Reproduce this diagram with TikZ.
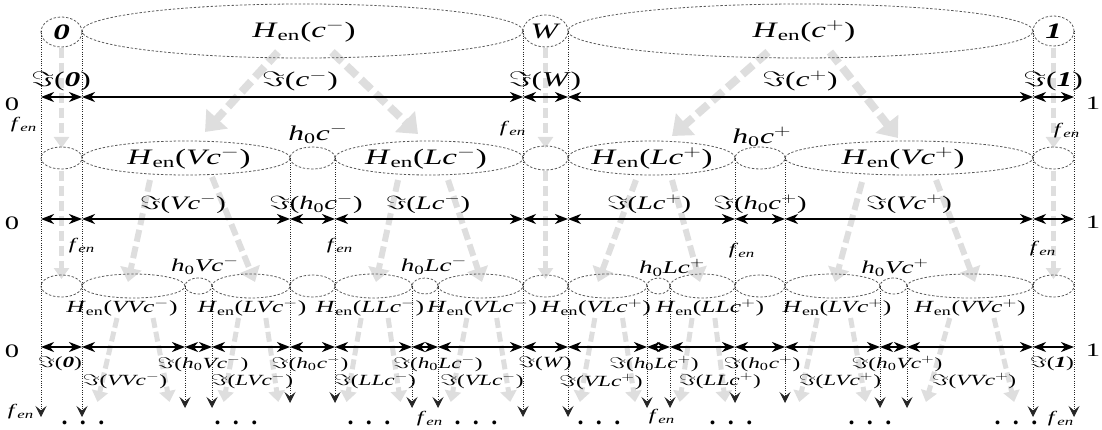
\RequirePackage{fix-cm}
\documentclass[tikz,border=0pt]{standalone}
\usepackage{graphicx}
\usepackage{fontspec}
\setmainfont{Liberation Serif}
\usetikzlibrary{shapes.geometric,arrows.meta}
\newcommand{\sx}[1]{\scalebox{1.5}[1]{#1}}
\newcommand{\Hn}{\textit{H}\textsubscript{en}}
\newcommand{\hz}{\textit{h}\textsubscript{0}}
\newcommand{\smi}{$^{-}$}
\newcommand{\spl}{$^{+}$}
\newcommand{\Jm}[1]{$\Im$(#1)}
\newcommand{\fenl}{\textit{f}\textsubscript{\textit{en}}}
\newcommand{\bz}{\textbf{\textit{0}}}
\newcommand{\bo}{\textbf{\textit{1}}}
\newcommand{\fs}[1]{\fontsize{#1}{#1}\selectfont}
\tikzset{
  ell/.style={ellipse, draw=black!65, line width=0.8pt, dash pattern=on 2.4pt off 1.8pt, inner sep=0pt},
  vdot/.style={draw=black!85, line width=0.8pt, dash pattern=on 0.9pt off 1.4pt, -{Stealth[length=11pt,width=11pt,inset=4.5pt]}},
  seg/.style={draw=black, line width=1.7pt, >={Stealth[length=13pt,width=10pt,inset=4pt]}, <->},
  g1/.style={draw=black!13, line width=8pt, dash pattern=on 14pt off 6pt, -{Triangle[length=18pt,width=28pt]}},
  g2/.style={draw=black!13, line width=6pt, dash pattern=on 12pt off 5pt, -{Triangle[length=14pt,width=21pt]}},
  g3/.style={draw=black!13, line width=5pt, dash pattern=on 10pt off 4pt, -{Triangle[length=11pt,width=16pt]}},
  gv/.style={draw=black!13, line width=5pt, dash pattern=on 10pt off 5pt, -{Triangle[length=11pt,width=15pt]}},
  lbl/.style={inner sep=0pt},
  tT/.style={lbl, font=\fs{22}},
  tI1/.style={lbl, font=\fs{21}},
  tH2/.style={lbl, font=\fs{22}},
  tI2/.style={lbl, font=\fs{19}},
  th/.style={lbl, font=\fs{21}},
  tH3/.style={lbl, font=\fs{17}},
  tI3/.style={lbl, font=\fs{15.5}},
  th3/.style={lbl, font=\fs{18}},
  tf/.style={lbl, font=\fs{16}},
  tax/.style={lbl, font=\fs{19}},
  tdots/.style={lbl, font=\fs{24}\bfseries},
}
\begin{document}
\begin{tikzpicture}[x=1pt,y=-1pt]
\useasboundingbox (0,0) rectangle (1102,430);

% ---------- grey dashed arrows (background) ----------
\draw[g1] (278,52) -- (205,132);
\draw[g1] (332,52) -- (418,134);
\draw[g1] (768,52) -- (672,136);
\draw[g1] (830,52) -- (898,138);
\foreach \x in {61.5,545.5,1053.5}{
  \draw[gv] (\x,48) -- (\x,148);
  \draw[gv] (\x,171) -- (\x,279);
}
\draw[g2] (150,180) -- (128,282);
\draw[g2] (212,177) -- (255,282);
\draw[g2] (398,180) -- (376,282);
\draw[g2] (448,180) -- (482,282);
\draw[g2] (636,180) -- (598,282);
\draw[g2] (672,180) -- (700,282);
\draw[g2] (862,182) -- (835,282);
\draw[g2] (936,180) -- (975,282);
\foreach \a/\b in {82/185,212/290,335/412,438/523,568/647,670/735,785/880,907/1033}{
  \pgfmathsetmacro{\w}{\b-\a}
  \draw[g3] ({\a+0.34*\w},318) -- ({\a+0.15*\w},402);
  \draw[g3] ({\a+0.69*\w},318) -- ({\a+0.85*\w},402);
}

% ---------- ellipses, row 0 ----------
\node[ell, minimum width=41pt, minimum height=30pt] (e0) at (61.5,32) {};
\node[ell, minimum width=441pt, minimum height=54pt] (ecm) at (302.5,31) {};
\node[ell, minimum width=45pt, minimum height=32pt] (eW) at (545.5,31) {};
\node[ell, minimum width=465pt, minimum height=54pt] (ecp) at (800.5,31) {};
\node[ell, minimum width=41pt, minimum height=30pt] (e1) at (1053.5,31) {};

% ---------- ellipses, row 1 ----------
\node[ell, minimum width=41pt, minimum height=22pt] (r1a) at (61.5,158) {};
\node[ell, minimum width=208pt, minimum height=34pt] (eVm) at (186,158) {};
\node[ell, minimum width=45pt, minimum height=22pt] (eh0m) at (312.5,158) {};
\node[ell, minimum width=188pt, minimum height=34pt] (eLm) at (429,158) {};
\node[ell, minimum width=45pt, minimum height=24pt] (r1W) at (545.5,158) {};
\node[ell, minimum width=167pt, minimum height=34pt] (eLp) at (651.5,158) {};
\node[ell, minimum width=50pt, minimum height=22pt] (eh0p) at (760,158) {};
\node[ell, minimum width=248pt, minimum height=34pt] (eVp) at (909,158) {};
\node[ell, minimum width=41pt, minimum height=22pt] (r1b) at (1053.5,158) {};

% ---------- ellipses, row 2 ----------
\foreach \n/\c/\w/\h in {r2a/61.5/41/22, eVVm/133.5/103/24, eh0Vm/198.5/27/16, eLVm/251/78/24,
  r2b/312.5/45/22, eLLm/373.5/77/24, eh0Lm/425/26/16, eVLm/480.5/85/24, r2W/545.5/45/22,
  eVLp/607.5/79/24, eh0Lp/658.5/23/16, eLLp/702.5/65/24, r2c/760/50/22, eLVp/832.5/95/24,
  eh0Vp/893.5/27/16, eVVp/970/126/24, r2d/1053.5/41/22}{
  \node[ell, minimum width=\w pt, minimum height=\h pt] (\n) at (\c,286) {};
}

% ---------- vertical dotted lines ----------
\foreach \x in {41,82,523,568,1033,1074}{ \draw[vdot] (\x,31) -- (\x,417); }
\foreach \x in {290,335,735,785}{ \draw[vdot] (\x,158) -- (\x,403); }
\foreach \x in {185,212,412,438,647,670,880,907}{ \draw[vdot] (\x,286) -- (\x,408); }

% ---------- axes ----------
\foreach \a/\b in {41/82,82/523,523/568,568/1033,1033/1074}{ \draw[seg] (\a,97) -- (\b,97); }
\foreach \a/\b in {41/82,82/290,290/335,335/523,523/568,568/735,735/785,785/1033,1033/1074}{ \draw[seg] (\a,219) -- (\b,219); }
\foreach \a/\b in {41/82,82/185,185/212,212/290,290/335,335/412,412/438,438/523,523/568,568/647,647/670,670/735,735/785,785/880,880/907,907/1033,1033/1074}{ \draw[seg] (\a,347) -- (\b,347); }

% ---------- axis end labels ----------
\node[tax] (a0a) at (12,104) {\sx{0}};
\node[tax] (a1a) at (1093,103) {\sx{1}};
\node[tax] (a0b) at (12,223) {\sx{0}};
\node[tax] (a1b) at (1093,222) {\sx{1}};
\node[tax] (a0c) at (12,351) {\sx{0}};
\node[tax] (a1c) at (1093,350) {\sx{1}};

% ---------- top labels ----------
\node[tT] at (e0) {\sx{\bz}};
\node[tT] at (304,31) {\sx{\Hn(\textit{c}\smi)}};
\node[tT] at (eW) {\sx{\textit{W}}};
\node[tT] at (804,31) {\sx{\Hn(\textit{c}\spl)}};
\node[tT] at (e1) {\sx{\bo}};

% ---------- row 1 interval labels ----------
\node[tI1] at (61,81) {\sx{\Jm{\bz}}};
\node[tI1] at (300,81) {\sx{\Jm{\textit{c}\smi}}};
\node[tI1] at (545,81) {\sx{\Jm{\textit{W}}}};
\node[tI1] at (800,81) {\sx{\Jm{\textit{c}\spl}}};
\node[tI1] at (1053,81) {\sx{\Jm{\bo}}};

% ---------- f_en labels ----------
\foreach \x/\y in {24/125,513/129,1067/131,82/246,340/246,742/251,1043/249,21/412,430/419,662/417,1061/419}{
  \node[tf] at (\x,\y) {\sx{\fenl}};
}

% ---------- row 1 ellipse labels ----------
\node[th] at (318,134) {\sx{\hz\textit{c}\smi}};
\node[th] at (762,137) {\sx{\hz\textit{c}\spl}};
\node[tH2] at (189,158) {\sx{\Hn(\textit{Vc}\smi)}};
\node[tH2] at (426,158) {\sx{\Hn(\textit{Lc}\smi)}};
\node[tH2] at (652,158) {\sx{\Hn(\textit{Lc}\spl)}};
\node[tH2] at (903,158) {\sx{\Hn(\textit{Vc}\spl)}};

% ---------- row 2 interval labels ----------
\node[tI2] at (183,204) {\sx{\Jm{\textit{Vc}\smi}}};
\node[tI2] at (316,204) {\sx{\Jm{\hz\textit{c}\smi}}};
\node[tI2] at (428,204) {\sx{\Jm{\textit{Lc}\smi}}};
\node[tI2] at (649,204) {\sx{\Jm{\textit{Lc}\spl}}};
\node[tI2] at (760,204) {\sx{\Jm{\hz\textit{c}\spl}}};
\node[tI2] at (909,204) {\sx{\Jm{\textit{Vc}\spl}}};

% ---------- row 2 ellipse labels ----------
\node[th3] at (205,266) {\sx{\hz\textit{Vc}\smi}};
\node[th3] at (434,266) {\sx{\hz\textit{Lc}\smi}};
\node[th3] at (672,268) {\sx{\hz\textit{Lc}\spl}};
\node[th3] at (895,268) {\sx{\hz\textit{Vc}\spl}};
\node[tH3] at (122,308) {\sx{\Hn(\textit{VVc}\smi)}};
\node[tH3] at (252,308) {\sx{\Hn(\textit{LVc}\smi)}};
\node[tH3] at (370,308) {\sx{\Hn(\textit{LLc}\smi)}};
\node[tH3] at (482,308) {\sx{\Hn(\textit{VLc}\smi)}};
\node[tH3] at (596,308) {\sx{\Hn(\textit{VLc}\spl)}};
\node[tH3] at (710,308) {\sx{\Hn(\textit{LLc}\spl)}};
\node[tH3] at (837,308) {\sx{\Hn(\textit{LVc}\spl)}};
\node[tH3] at (970,308) {\sx{\Hn(\textit{VVc}\spl)}};

% ---------- row 3 interval labels ----------
\node[tI3] at (60,364) {\sx{\Jm{\bz}}};
\node[tI3] at (203,364) {\sx{\Jm{\hz\textit{Vc}\smi}}};
\node[tI3] at (310,364) {\sx{\Jm{\hz\textit{c}\smi}}};
\node[tI3] at (438,364) {\sx{\Jm{\hz\textit{Lc}\smi}}};
\node[tI3] at (545,364) {\sx{\Jm{\textit{W}}}};
\node[tI3] at (654,364) {\sx{\Jm{\hz\textit{Lc}\spl}}};
\node[tI3] at (762,364) {\sx{\Jm{\hz\textit{c}\spl}}};
\node[tI3] at (897,364) {\sx{\Jm{\hz\textit{Vc}\spl}}};
\node[tI3] at (1052,364) {\sx{\Jm{\bo}}};
\node[tI3] at (125,381) {\sx{\Jm{\textit{VVc}\smi}}};
\node[tI3] at (252,381) {\sx{\Jm{\textit{LVc}\smi}}};
\node[tI3] at (375,381) {\sx{\Jm{\textit{LLc}\smi}}};
\node[tI3] at (482,381) {\sx{\Jm{\textit{VLc}\smi}}};
\node[tI3] at (601,382) {\sx{\Jm{\textit{VLc}\spl}}};
\node[tI3] at (720,381) {\sx{\Jm{\textit{LLc}\spl}}};
\node[tI3] at (840,381) {\sx{\Jm{\textit{LVc}\spl}}};
\node[tI3] at (974,381) {\sx{\Jm{\textit{VVc}\spl}}};

% ---------- bottom dots ----------
\foreach \x in {83,236,369,476,599,731,870,1016}{
  \node[tdots] at (\x,423) {.\hspace{12.5pt}.\hspace{12.5pt}.};
}
\end{tikzpicture}
\end{document}
